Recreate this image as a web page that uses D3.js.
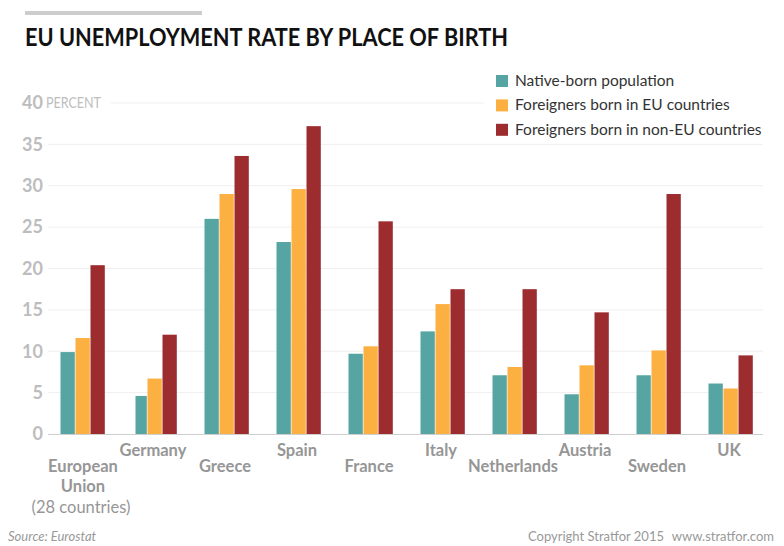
<!DOCTYPE html>
<html>
<head>
<meta charset="utf-8">
<script src="https://cdn.jsdelivr.net/npm/d3@7"></script>
<style>
	html, body { margin: 0; padding: 0; background: #fff; }
	svg { display: block; }
	text { font-family: Lato, sans-serif; }
</style>
</head>
<body>
<div id="chart"></div>
<script>
const countries = ['European Union', 'Germany', 'Greece', 'Spain', 'France', 'Italy', 'Netherlands', 'Austria', 'Sweden', 'UK'];
const seriesNames = ['Native-born population', 'Foreigners born in EU countries', 'Foreigners born in non-EU countries'];
const seriesColors = ['#56a5a2', '#fdb042', '#9d2c2e'];

const nativeBorn = [9.9, 4.6, 26.0, 23.2, 9.7, 12.4, 7.1, 4.8, 7.1, 6.1];
const bornInEU = [11.6, 6.7, 29.0, 29.6, 10.6, 15.7, 8.1, 8.3, 10.1, 5.5];
const bornNonEU = [20.4, 12.0, 33.6, 37.2, 25.7, 17.5, 17.5, 14.7, 29.0, 9.5];
const yTicks = [0, 5, 10, 15, 20, 25, 30, 35, 40];

const width = 784,
	height = 546,
	margin = { top: 103, bottom: 112, left: 47, right: 17 };

const allSeries = [nativeBorn, bornInEU, bornNonEU];

let svg = d3.select('#chart')
	.append('svg')
	.attr('width', width)
	.attr('height', height);

let x = d3.scaleBand()
	.domain(countries)
	.range([margin.left, width - margin.right])
	.paddingInner(0)
	.paddingOuter(0);

let barScale = d3.scaleBand()
	.domain(d3.range(seriesNames.length))
	.range([x.bandwidth() / 2 - 22.5, x.bandwidth() / 2 + 22.5]);

let y = d3.scaleLinear()
	.domain([0, 40])
	.range([height - margin.bottom, margin.top]);

// top rule and title
svg.append('rect')
	.attr('x', 25)
	.attr('y', 11)
	.attr('width', 177)
	.attr('height', 4)
	.attr('fill', '#cdcdcd');

// the original face is narrower than Lato, so squeeze it to the same width
svg.append('text')
	.attr('x', 25)
	.attr('y', 46)
	.attr('textLength', 483)
	.attr('lengthAdjust', 'spacingAndGlyphs')
	.style('font-size', '24px')
	.style('font-weight', 700)
	.style('fill', '#111')
	.text('EU UNEMPLOYMENT RATE BY PLACE OF BIRTH');

// gridlines, the 40 one makes room for the unit label and the legend
let grid = svg.append('g');
yTicks.filter(d => d > 0).forEach(function (d) {
	grid.append('line')
		.attr('x1', d == 40 ? 111 : 48)
		.attr('x2', d == 40 ? 484 : 763)
		.attr('y1', y(d))
		.attr('y2', y(d))
		.style('stroke', '#efefef')
		.style('stroke-width', 1);
});

// y axis
let yAxis = svg.append('g')
	.attr('transform', 'translate(44,0)')
	.call(d3.axisLeft(y).tickValues(yTicks).tickSize(0).tickPadding(1));

yAxis.select('.domain').remove();
yAxis.selectAll('text')
	.style('font-family', 'Lato, sans-serif')
	.style('font-size', '18px')
	.style('font-weight', 700)
	.style('fill', '#bdbdbd');

svg.append('text')
	.attr('x', 46)
	.attr('y', 108)
	.attr('textLength', 55)
	.attr('lengthAdjust', 'spacingAndGlyphs')
	.style('font-size', '15.5px')
	.style('fill', '#bdbdbd')
	.text('PERCENT');

// bars
seriesNames.forEach(function (name, s) {
	svg.append('g')
		.selectAll('rect')
		.data(allSeries[s])
		.join('rect')
		.attr('x', (d, i) => x(countries[i]) + barScale(s) + (s == 0 && countries[i] == 'Germany' ? 3 : 0))
		.attr('y', d => y(d))
		// the Germany native-born bar is drawn narrower in the original
		.attr('width', (d, i) => barScale.bandwidth() - 0.7 - (s == 0 && countries[i] == 'Germany' ? 3 : 0))
		.attr('height', d => y(0) - y(d))
		.attr('fill', seriesColors[s]);
});

// baseline
svg.append('line')
	.attr('x1', 48)
	.attr('x2', 763)
	.attr('y1', y(0) + 0.5)
	.attr('y2', y(0) + 0.5)
	.style('stroke', '#cfcfcf')
	.style('stroke-width', 1.2);

// country labels, staggered on two rows
let labels = svg.append('g')
	.style('font-size', '16.5px')
	.style('font-weight', 700)
	.style('fill', '#969696')
	.attr('text-anchor', 'middle');

countries.forEach(function (name, i) {
	let cx = x(name) + x.bandwidth() / 2;
	if (i == 0) {
		labels.append('text').attr('x', cx).attr('y', 472).text('European');
		labels.append('text').attr('x', cx).attr('y', 492).text('Union');
		labels.append('text').attr('x', cx - 2).attr('y', 513)
			.style('font-weight', 400)
			.text('(28 countries)');
	} else {
		labels.append('text')
			.attr('x', cx - 2)
			.attr('y', i % 2 == 1 ? 455.5 : 472)
			.text(name);
	}
});

// legend
let legend = svg.append('g');
seriesNames.forEach(function (name, s) {
	legend.append('rect')
		.attr('x', 496)
		.attr('y', 75 + s * 24.4)
		.attr('width', 12)
		.attr('height', 12)
		.attr('fill', seriesColors[s]);
	legend.append('text')
		.attr('x', 515)
		.attr('y', 86 + s * 24.4)
		.style('font-size', '15.5px')
		.style('fill', '#333')
		.text(name);
});

// footer
svg.append('text')
	.attr('x', 8)
	.attr('y', 541)
	.style('font-size', '13px')
	.style('font-style', 'italic')
	.style('fill', '#999')
	.text('Source: Eurostat');

svg.append('text')
	.attr('x', 528)
	.attr('y', 541)
	.style('font-size', '13px')
	.style('fill', '#999')
	.text('Copyright Stratfor 2015');

svg.append('text')
	.attr('x', 774)
	.attr('y', 541)
	.attr('text-anchor', 'end')
	.style('font-size', '13px')
	.style('fill', '#999')
	.text('www.stratfor.com');
</script>
</body>
</html>
